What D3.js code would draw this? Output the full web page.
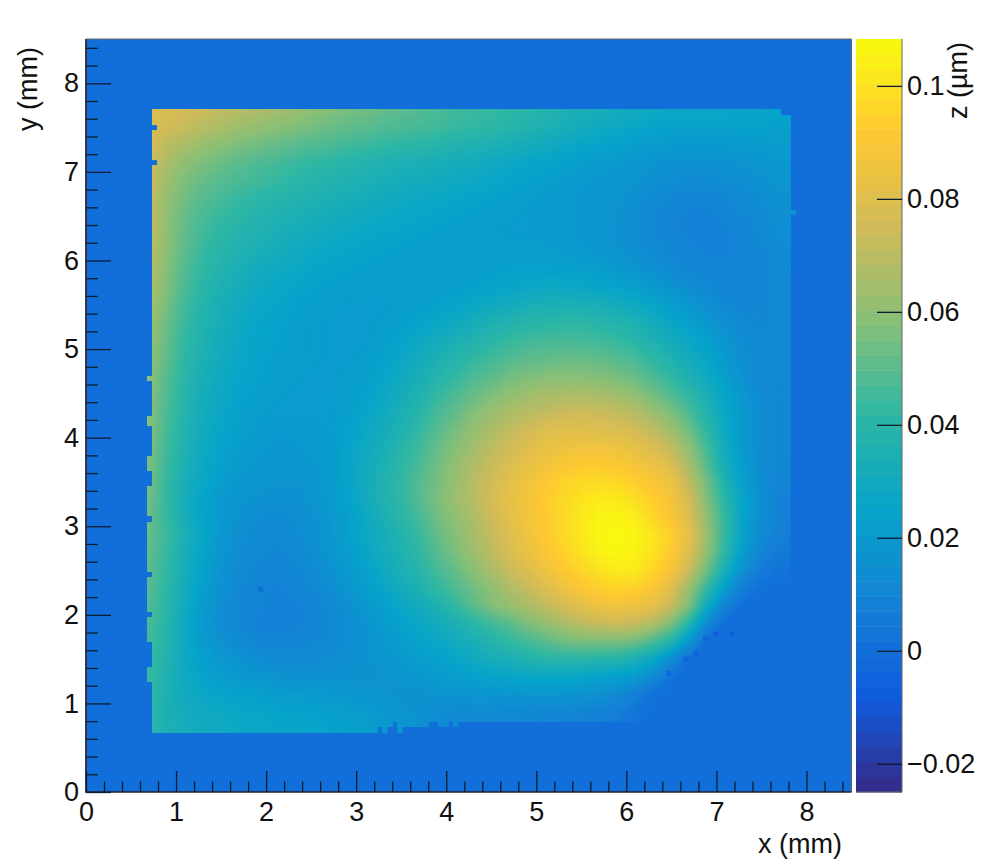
<!DOCTYPE html>
<html>
<head>
<meta charset="utf-8">
<script src="https://cdnjs.cloudflare.com/ajax/libs/d3/7.8.5/d3.min.js"></script>
<style>
body { margin: 0; background: #fff; }
text { font-family: "Liberation Sans", Arial, sans-serif; fill: #111; }
.tick text { font-size: 27px; fill: #111; }
.tick line { stroke: #0b1d33; stroke-width: 1.3; }
.domain { display: none; }
</style>
</head>
<body>
<svg id="chart" width="991" height="866"></svg>
<script>
// z in nm, one row per y (7.7 mm at the top, 0.7 at the bottom, step 0.2 mm)
var gridX0 = 0.7, gridYTop = 7.7, gridStep = 0.2;
var zRows = [
[79,78,76,74,71,69,67,65,63,60,58,56,54,52,50,49,47,45,44,43,41,40,38,36,34,33,31,30,29,28,28,27,27,26,26,25,25],
[78,75,72,69,66,63,61,59,57,55,53,51,50,48,47,46,45,43,42,41,39,37,35,33,31,29,28,26,25,24,24,24,24,24,24,23,23],
[77,70,66,62,59,56,54,52,50,48,47,45,44,42,41,40,39,37,36,35,33,31,30,28,26,25,24,22,21,20,20,20,20,20,21,21,21],
[76,66,60,56,53,50,48,46,44,42,41,39,38,36,35,34,33,32,31,29,28,26,25,24,22,21,20,19,17,16,16,16,16,17,18,19,20],
[75,63,56,52,49,47,45,43,41,39,37,36,35,33,32,31,30,29,28,27,25,24,23,21,20,19,18,17,15,14,13,13,14,15,16,18,19],
[74,61,54,49,46,43,41,39,37,36,34,33,32,30,29,28,27,26,25,24,23,22,21,20,19,18,17,15,13,11,10,10,11,12,14,16,17],
[73,60,52,47,43,41,38,36,35,33,32,30,29,28,27,26,25,24,23,22,22,21,20,20,19,18,17,14,12,10,9,9,10,11,13,15,16],
[72,60,51,45,41,38,36,34,32,31,29,28,27,26,25,24,23,23,22,22,21,21,20,20,19,18,16,14,12,10,9,9,9,11,12,14,15],
[71,59,50,43,39,36,34,32,30,28,27,26,25,24,23,23,23,22,22,22,22,22,22,21,20,19,17,15,13,11,10,9,9,10,11,13,15],
[70,58,48,42,37,34,31,29,28,26,25,24,23,23,22,22,22,22,22,23,24,24,24,24,23,22,20,18,15,13,11,10,10,10,11,13,14],
[68,57,47,40,35,32,29,27,26,24,23,23,22,22,22,22,22,23,24,25,26,27,28,28,27,26,25,23,20,17,14,12,10,10,11,12,14],
[66,55,45,38,33,30,27,26,24,23,22,21,21,21,22,23,24,25,27,29,31,33,34,34,34,33,31,29,26,22,19,15,12,10,11,12,13],
[64,53,44,37,32,29,26,25,23,22,21,21,21,22,23,25,27,29,32,35,37,39,40,41,41,39,38,35,31,27,23,19,15,12,11,12,13],
[62,52,42,36,31,28,25,24,23,22,21,21,21,23,25,28,31,34,37,40,43,45,46,46,46,45,43,40,36,31,27,23,18,14,12,12,13],
[61,51,41,35,30,27,25,23,22,22,21,21,22,24,27,31,35,38,42,45,48,50,51,52,52,51,49,46,41,36,31,26,20,15,12,12,13],
[60,49,40,33,29,26,24,23,22,21,21,22,23,26,29,33,38,42,47,50,54,56,58,58,58,57,55,52,47,41,35,29,22,16,12,12,12],
[59,48,39,32,28,25,23,22,21,21,21,22,24,27,31,36,42,47,52,56,60,63,65,66,66,65,63,60,54,48,41,33,25,18,13,11,12],
[59,47,38,31,27,24,22,21,21,21,21,23,26,29,34,39,46,51,57,62,66,69,71,73,74,73,71,68,62,56,47,37,27,19,14,11,12],
[58,46,37,30,26,23,21,20,20,20,21,24,27,31,36,42,49,55,61,66,71,75,78,80,80,79,78,75,70,63,53,41,28,19,14,11,12],
[57,45,36,29,25,22,20,19,19,20,21,25,29,33,39,45,52,58,64,70,75,79,83,85,86,86,85,82,78,71,60,45,30,20,14,11,12],
[56,44,35,28,24,21,19,18,18,19,21,25,30,35,41,47,54,61,67,73,78,83,87,90,92,92,91,88,84,78,65,49,32,21,14,11,11],
[55,43,33,27,22,19,18,17,17,18,21,25,30,36,42,49,55,62,69,75,81,86,91,95,97,98,97,94,90,85,71,54,36,23,14,10,10],
[54,42,32,25,20,18,16,15,15,17,20,24,30,36,42,49,56,63,69,76,83,88,93,97,101,103,102,99,94,88,76,57,39,25,15,9,9],
[53,43,33,25,20,16,14,13,14,16,19,23,28,34,40,46,54,60,67,74,81,87,92,97,102,106,106,103,97,90,78,60,42,25,14,9,8],
[52,44,34,26,19,15,13,12,13,15,19,23,28,32,37,43,52,58,65,72,79,86,92,97,102,107,108,106,101,94,82,62,42,24,13,8,6],
[51,43,33,25,18,14,12,11,12,14,18,21,26,31,36,42,49,56,63,70,77,84,90,95,100,105,107,105,100,92,79,60,40,21,10,5,4],
[50,42,32,24,17,13,11,10,11,13,16,20,24,29,34,39,46,52,59,66,73,79,85,91,96,100,103,102,96,88,73,53,33,15,6,2,2],
[49,41,31,22,16,12,10,9,10,11,14,18,22,26,31,36,42,48,54,60,67,73,79,85,90,94,96,95,90,80,62,42,21,7,1,0,0],
[48,40,30,21,15,11,10,9,9,10,12,15,19,23,27,31,36,42,50,57,62,66,71,76,81,85,87,85,82,73,56,30,9,0,0,0,0],
[47,39,28,20,14,11,9,9,9,10,11,14,17,21,24,27,31,35,40,45,50,56,61,66,70,73,74,72,67,56,38,12,0,0,0,0,0],
[45,38,28,21,16,13,11,10,10,11,12,14,16,19,22,25,27,30,34,38,42,46,50,54,56,56,56,54,47,38,18,1,0,0,0,0,0],
[44,37,28,23,19,16,14,13,13,13,14,15,16,18,20,22,24,26,29,32,34,37,39,40,40,39,38,34,27,14,2,0,0,0,0,0,0],
[43,36,29,25,22,20,18,17,16,16,16,16,16,17,18,19,21,22,24,25,26,27,27,27,26,24,23,20,13,3,0,0,0,0,0,0,0],
[42,35,30,27,25,24,23,22,21,20,20,19,18,17,16,16,17,17,18,18,18,18,18,18,17,16,13,8,2,0,0,0,0,0,0,0,0],
[41,35,31,29,28,27,26,25,24,24,23,22,21,19,18,16,14,13,13,13,12,12,11,11,10,9,7,3,0,0,0,0,0,0,0,0,0],
[41,35,32,30,29,28,27,26,26,25,24,24,22,20,18,16,13,12,12,11,11,10,10,9,8,7,5,2,0,0,0,0,0,0,0,0,0]
];

// outline of the measured area, mm
var outline = [[0.733,7.70],[7.71,7.70],[7.71,7.64],[7.82,7.64],[7.82,2.4],[7.6,2.15],[7.2,1.8],[6.75,1.55],[6.5,1.2],[6.3,0.79],
  [4.244,0.79],[4.133,0.79],[4.133,0.734],[4.078,0.734],[4.078,0.79],[4.022,0.79],[4.022,0.734],[3.911,0.734],[3.911,0.79],[3.8,0.79],
  [3.8,0.734],[3.511,0.734],[3.511,0.666],[3.456,0.666],[3.456,0.79],[3.4,0.79],[3.4,0.734],[3.344,0.734],[3.344,0.666],[3.289,0.666],[3.289,0.734],[3.233,0.734],[3.233,0.666],[0.733,0.666]];
// extra cells that stick out of the left edge, y ranges in mm
var leftBumps = [[4.639,4.695],[4.131,4.244],[3.623,3.792],[3.115,3.454],[2.483,3.047],[2.032,2.427],[1.693,1.975],[1.242,1.411]];
var rightBumps = [[6.512,6.569]];
// empty cells just inside the left edge
var leftHoles = [[7.472,7.528],[7.077,7.133]];
// single low cells: x, y, z
var lowCells = [[6.99,1.78,-0.007],[7.17,1.78,-0.007],[6.47,1.34,-0.004],[6.66,1.5,-0.004],[6.77,1.57,-0.004],[6.88,1.73,-0.004],[1.94,2.29,-0.001]];

var xMajor = [0,1,2,3,4,5,6,7,8];
var yMajor = [0,1,2,3,4,5,6,7,8];
var zMajor = [-0.02,0,0.02,0.04,0.06,0.08,0.1];
var zTickLabels = ["\u22120.02","0","0.02","0.04","0.06","0.08","0.1"];

var zMin = -0.025, zMax = 0.1083, nLevels = 50, heatLevels = 200;
var birdStops = [0,0.125,0.25,0.375,0.5,0.625,0.75,0.875,1];
var birdColors = ["#352a87","#0f5cdd","#1481d6","#06a4ca","#2eb7a4","#87bf77","#d1bb59","#fec832","#f9fb0e"];

var svg = d3.select("#chart");
var left = 86, right = 851.5, top_ = 39, bottom = 792;

var xScale = d3.scaleLinear().domain([0,8.5]).range([left,right]);
var yScale = d3.scaleLinear().domain([0,8.5]).range([bottom,top_]);
var zScale = d3.scaleLinear().domain([zMin,zMax]).range([bottom,top_]);
var bird = d3.scaleLinear().domain(birdStops).range(birdColors);

var levelWidth = (zMax - zMin) / nLevels;
var levels = d3.range(nLevels).map(function(i) { return zMin + i * levelWidth; });
function levelColor(i) { return bird((i + 0.5) / nLevels); }
function colorOf(z) { return bird((z - zMin) / (zMax - zMin)); }

// background is z = 0
svg.append("rect").attr("x",left).attr("y",top_).attr("width",right-left).attr("height",bottom-top_).attr("fill",colorOf(0));

// clip to the measured area
var clip = svg.append("clipPath").attr("id","area");
clip.append("path").attr("d", d3.line().x(function(d){return xScale(d[0]);}).y(function(d){return yScale(d[1]);})(outline) + "Z");
leftBumps.forEach(function(b) {
  clip.append("rect").attr("x",xScale(0.678)).attr("width",xScale(0.74)-xScale(0.678))
    .attr("y",yScale(b[1])).attr("height",yScale(b[0])-yScale(b[1]));
});
rightBumps.forEach(function(b) {
  clip.append("rect").attr("x",xScale(7.81)).attr("width",xScale(7.878)-xScale(7.81))
    .attr("y",yScale(b[1])).attr("height",yScale(b[0])-yScale(b[1]));
});

var nCols = zRows[0].length, nRows = zRows.length;
var flat = [];
zRows.forEach(function(r) { r.forEach(function(v) { flat.push(v / 1000); }); });

// start the bands at z = 0, the darker ones would bleed through the clip edge
var heatStep = (zMax - zMin) / heatLevels;
var heatThresholds = d3.range(0, zMax, heatStep);
var contours = d3.contours().size([nCols,nRows]).thresholds(heatThresholds)(flat);
var toPlot = d3.geoTransform({
  point: function(c, r) {
    this.stream.point(xScale(gridX0 + (c - 0.5) * gridStep), yScale(gridYTop - (r - 0.5) * gridStep));
  }
});
var path = d3.geoPath(toPlot);

svg.append("g").attr("clip-path","url(#area)")
  .selectAll("path").data(contours).enter().append("path")
  .attr("d", path)
  .attr("fill", function(d) { return colorOf(d.value + heatStep / 2); });

svg.append("g").selectAll("rect").data(leftHoles).enter().append("rect")
  .attr("x",xScale(0.733)-0.5).attr("width",xScale(0.789)-xScale(0.733)+0.5)
  .attr("y",function(d){return yScale(d[1]);})
  .attr("height",function(d){return yScale(d[0])-yScale(d[1]);})
  .attr("fill",colorOf(0));

svg.append("g").selectAll("rect").data(lowCells).enter().append("rect")
  .attr("x",function(d){return xScale(d[0])-2.5;})
  .attr("y",function(d){return yScale(d[1])-2.5;})
  .attr("width",5).attr("height",5)
  .attr("fill",function(d){return colorOf(d[2]);});

// frame
svg.append("path").attr("d","M"+left+","+bottom+"V"+top_+"H"+right+"V"+bottom)
  .attr("fill","none").attr("stroke","#666").attr("stroke-width",1);
svg.append("path").attr("d","M"+left+","+top_+"V"+bottom+"H"+right)
  .attr("fill","none").attr("stroke","#223").attr("stroke-width",1.6);

// axes
var minors = d3.range(0,8.5,0.2).filter(function(v) { return Math.abs(v - Math.round(v)) > 0.01; });

svg.append("g").attr("transform","translate(0,"+bottom+")")
  .call(d3.axisBottom(xScale).tickValues(minors).tickSizeInner(-10.5).tickFormat(""));
svg.append("g").attr("transform","translate(0,"+bottom+")")
  .call(d3.axisBottom(xScale).tickValues(xMajor).tickSizeInner(-21).tickPadding(10).tickFormat(d3.format("d")));
svg.append("g").attr("transform","translate("+left+",0)")
  .call(d3.axisLeft(yScale).tickValues(minors).tickSizeInner(-12).tickFormat(""));
svg.append("g").attr("transform","translate("+left+",0)")
  .call(d3.axisLeft(yScale).tickValues(yMajor).tickSizeInner(-25).tickPadding(7).tickFormat(d3.format("d")));

svg.append("text").attr("x",842).attr("y",853).attr("text-anchor","end").attr("font-size",27).text("x (mm)");
svg.append("text").attr("transform","translate(37,47) rotate(-90)").attr("text-anchor","end").attr("font-size",27).text("y (mm)");

// colour bar
var barLeft = 856, barRight = 902;
svg.append("g").selectAll("rect").data(levels).enter().append("rect")
  .attr("x",barLeft).attr("width",barRight-barLeft)
  .attr("y",function(d){return zScale(d + levelWidth);})
  .attr("height",function(d){return zScale(d)-zScale(d + levelWidth)+0.5;})
  .attr("fill",function(d,i){return levelColor(i);});
svg.append("path").attr("d","M"+barLeft+","+bottom+"H"+barRight+"V"+top_)
  .attr("fill","none").attr("stroke","#666").attr("stroke-width",1);
svg.append("g").attr("transform","translate("+barRight+",0)")
  .call(d3.axisRight(zScale).tickValues(zMajor).tickSizeInner(-25).tickPadding(5)
    .tickFormat(function(d,i){return zTickLabels[i];}));
svg.append("text").attr("transform","translate(967,42) rotate(-90)").attr("text-anchor","end").attr("font-size",27).text("z (\u00b5m)");
</script>
</body>
</html>
